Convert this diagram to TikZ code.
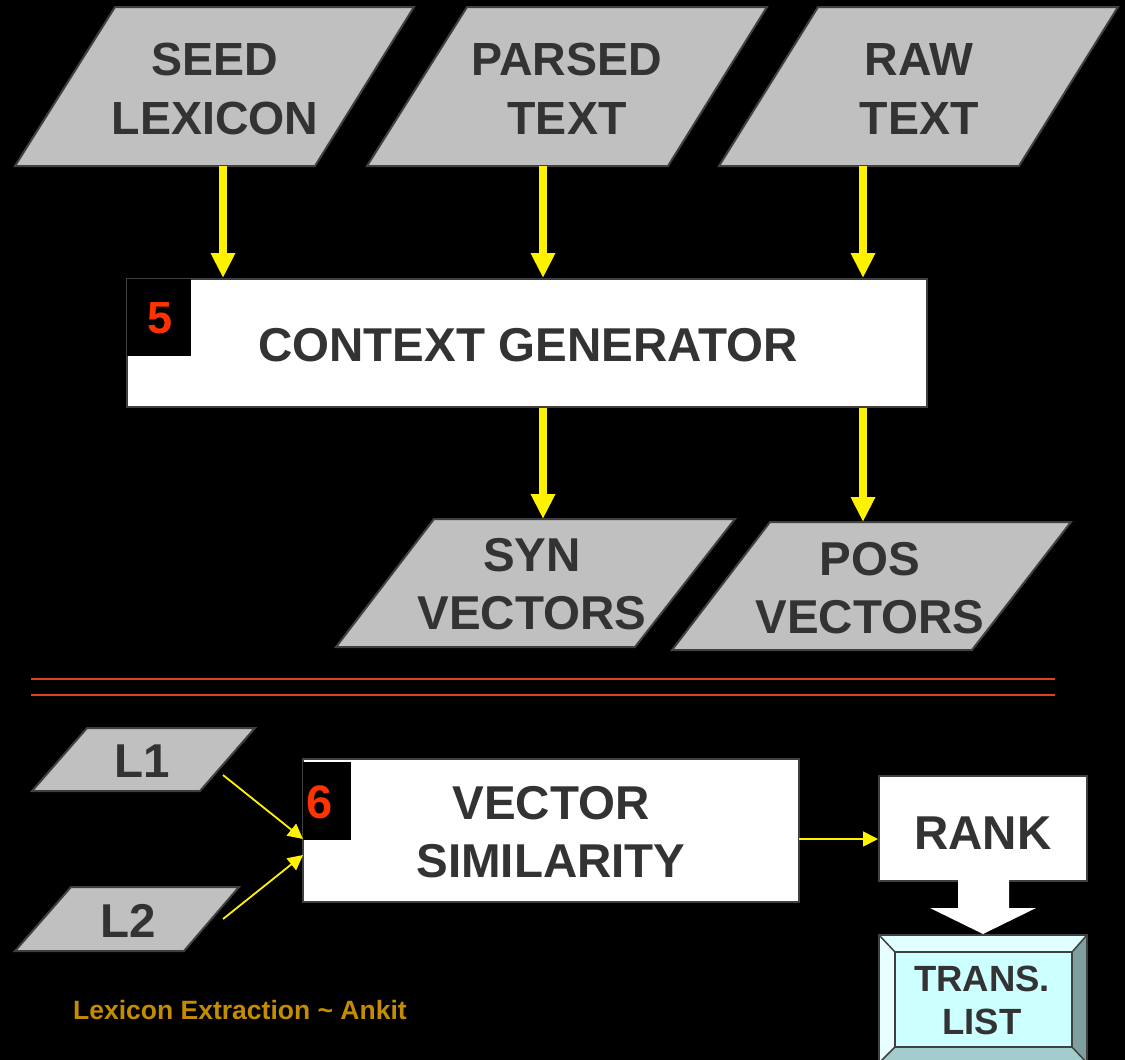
\documentclass[tikz,border=0pt]{standalone}
\usepackage{fontspec}
\setmainfont{Liberation Sans}
\usetikzlibrary{arrows.meta}
\definecolor{txt}{HTML}{333333}
\definecolor{bord}{HTML}{404040}
\definecolor{pgray}{HTML}{C0C0C0}
\definecolor{numred}{HTML}{FF3300}
\definecolor{redline}{HTML}{E0401A}
\definecolor{gold}{HTML}{C48C00}
\definecolor{face}{HTML}{CCFFFF}
\definecolor{bevtop}{HTML}{E0FFFF}
\definecolor{bevleft}{HTML}{E8FFFF}
\definecolor{bevright}{HTML}{7F9F9F}
\definecolor{bevbot}{HTML}{A3CCCC}
\tikzset{
  para/.style={fill=pgray, draw=bord, line width=2pt, line join=miter},
  lbl/.style={text=txt, font=\fontsize{46.5}{58.5}\selectfont\bfseries, align=center, inner sep=0pt},
  lblb/.style={text=txt, font=\fontsize{47.5}{58}\selectfont\bfseries, align=center, inner sep=0pt},
  whitebox/.style={draw=bord, fill=white, line width=2pt, inner sep=0pt},
  blacksq/.style={fill=black, draw=none, inner sep=0pt},
  numtxt/.style={text=numred, inner sep=0pt},
  bigarrow/.style={draw=yellow, line width=8pt, -{Triangle[length=25pt,width=23pt]}},
  thinarrow/.style={draw=yellow, line width=1.8pt, -{Triangle[length=15pt,width=15pt]}},
  sepline/.style={draw=redline, line width=2pt},
}
\begin{document}
\begin{tikzpicture}[x=1pt,y=-1pt]
\fill[black] (0,0) rectangle (1125,1060);
\useasboundingbox (0,0) rectangle (1125,1060);

% top inputs
\draw[para] (115,7) -- (414,7) -- (315,166) -- (15,166) -- cycle;
\node[lbl] (seed) at (215,89) {SEED\\LEXICON};
\draw[para] (467,7) -- (767,7) -- (668,166) -- (367,166) -- cycle;
\node[lbl] (parsed) at (567,89) {PARSED\\TEXT};
\draw[para] (818,7) -- (1118,7) -- (1019,166) -- (719,166) -- cycle;
\node[lbl] (raw) at (919,89) {RAW\\TEXT};

\coordinate (seedB) at (223,166);
\coordinate (parsedB) at (543,166);
\coordinate (rawB) at (863,166);

% context generator
\node[whitebox, minimum width=800pt, minimum height=128pt] (ctx) at (527,343) {};
\node[blacksq, minimum width=64pt, minimum height=77pt] (sq5) at (159,317.5) {};
\node[numtxt, font=\fontsize{45}{50}\selectfont\bfseries] (n5) at (160,318) {5};
\node[lblb] (ctxt) at (528,345) {CONTEXT GENERATOR};

\draw[bigarrow] (seedB) -- (seedB |- ctx.north);
\draw[bigarrow] (parsedB) -- (parsedB |- ctx.north);
\draw[bigarrow] (rawB) -- (rawB |- ctx.north);

% outputs
\draw[para] (434,519) -- (735,519) -- (635,647) -- (336,647) -- cycle;
\node[lblb] (syn) at (532,584) {SYN\\VECTORS};
\draw[para] (770,522) -- (1071,522) -- (972,650) -- (672,650) -- cycle;
\node[lblb] (pos) at (870,588) {POS\\VECTORS};

\coordinate (synT) at (543,519);
\coordinate (posT) at (863,522);
\draw[bigarrow] (ctx.south -| synT) -- (synT);
\draw[bigarrow] (ctx.south -| posT) -- (posT);

% separator
\coordinate (sepA1) at (31,679);
\coordinate (sepB1) at (1055,679);
\coordinate (sepA2) at (31,695);
\coordinate (sepB2) at (1055,695);
\draw[sepline] (sepA1) -- (sepB1);
\draw[sepline] (sepA2) -- (sepB2);

% bottom part
\draw[para] (87,728) -- (255,728) -- (200,791) -- (32,791) -- cycle;
\node[lblb] (l1) at (142,761) {L1};
\draw[para] (71,887) -- (239,887) -- (184,951) -- (15,951) -- cycle;
\node[lblb] (l2) at (128,921) {L2};

\node[whitebox, minimum width=496pt, minimum height=143pt] (vs) at (551,830.5) {};
\node[blacksq, minimum width=48pt, minimum height=78pt] (sq6) at (327,801) {};
\node[numtxt, font=\fontsize{47}{50}\selectfont\bfseries] (n6) at (320,802) {6};
\node[lblb] (vst) at (551,832) {VECTOR\\SIMILARITY};

\coordinate (l1o) at (223,775);
\coordinate (l2o) at (223,919);
\coordinate (vsIn1) at (303,839);
\coordinate (vsIn2) at (303,855);
\draw[thinarrow] (l1o) -- (vsIn1);
\draw[thinarrow] (l2o) -- (vsIn2);

\node[whitebox, minimum width=208pt, minimum height=105pt] (rank) at (983,828.5) {};
\node[lblb] (rankt) at (983,833) {RANK};

\coordinate (vsOut) at (799,839);
\draw[thinarrow] (vsOut) -- (vsOut -| rank.west);

% trans list bevel box
\fill[bevtop] (879,935) -- (1087,935) -- (1072,952) -- (895,952) -- cycle;
\fill[bevleft] (879,935) -- (895,952) -- (895,1047) -- (879,1063) -- cycle;
\fill[bevright] (1087,935) -- (1087,1063) -- (1072,1047) -- (1072,952) -- cycle;
\fill[bevbot] (879,1063) -- (895,1047) -- (1072,1047) -- (1087,1063) -- cycle;
\fill[face] (895,952) rectangle (1072,1047);
\draw[bord, line width=2pt] (879,935) rectangle (1087,1063);
\draw[bord, line width=2pt] (895,952) rectangle (1072,1047);
\draw[bord, line width=1.5pt] (879,935) -- (895,952) (1087,935) -- (1072,952)
  (879,1063) -- (895,1047) (1087,1063) -- (1072,1047);
\node[text=txt, font=\fontsize{36.5}{43}\selectfont\bfseries, align=center, inner sep=0pt] (trans) at (982,1000) {TRANS.\\LIST};

% block arrow from rank to list
\fill[white] (958,880) -- (958,908) -- (930,908) -- (983,934) -- (1036,908) -- (1009,908) -- (1009,880) -- cycle;

% footer
\node[text=gold, font=\fontsize{26.5}{30}\selectfont\bfseries, anchor=base west, inner sep=0pt] (foot) at (73,1019) {Lexicon Extraction \textasciitilde{} Ankit};
\end{tikzpicture}
\end{document}
